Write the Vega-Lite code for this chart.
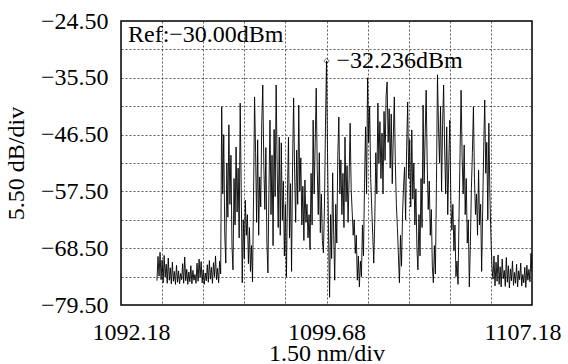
{
"$schema": "https://vega.github.io/schema/vega-lite/v6.json",
"width": 411,
"height": 284,
"autosize": {"type": "none"},
"padding": {"left": 121, "top": 21, "right": 36, "bottom": 59},
"background": "white",
"config": {
  "font": "Liberation Serif",
  "view": {"stroke": "black", "strokeWidth": 1.5},
  "axis": {
    "domain": false, "ticks": false, "grid": true,
    "gridColor": "#333", "gridDash": [2, 2], "gridWidth": 0.8,
    "labelFontSize": 24, "labelColor": "black", "labelFont": "Liberation Serif",
    "titleFontSize": 24, "titleFontWeight": "normal", "titleColor": "black", "titleFont": "Liberation Serif",
    "labelOverlap": false, "labelBound": false
  }
},
"datasets": {
"trace": [
{"w":1093.4925,"p":-74.8},{"w":1093.53,"p":-70.1},{"w":1093.5675,"p":-73.9},{"w":1093.605,"p":-69.3},{"w":1093.6425,"p":-74.6},
{"w":1093.68,"p":-70.8},{"w":1093.7175,"p":-75.2},{"w":1093.755,"p":-69.9},{"w":1093.7925,"p":-74.1},{"w":1093.83,"p":-71.6},{"w":1093.8675,"p":-75.3},{"w":1093.905,"p":-70.4},{"w":1093.9425,"p":-74.7},
{"w":1093.98,"p":-72.3},{"w":1094.0175,"p":-75.4},{"w":1094.055,"p":-71.2},{"w":1094.0925,"p":-74.9},{"w":1094.13,"p":-73.0},{"w":1094.1675,"p":-75.5},{"w":1094.205,"p":-71.8},{"w":1094.2425,"p":-75.1},
{"w":1094.28,"p":-72.9},{"w":1094.3175,"p":-75.4},{"w":1094.355,"p":-73.4},{"w":1094.3925,"p":-74.6},{"w":1094.43,"p":-71.5},{"w":1094.4675,"p":-75.3},{"w":1094.505,"p":-70.2},{"w":1094.5425,"p":-74.8},
{"w":1094.58,"p":-72.6},{"w":1094.6175,"p":-75.5},{"w":1094.655,"p":-73.1},{"w":1094.6925,"p":-75.0},{"w":1094.73,"p":-71.9},{"w":1094.7675,"p":-75.4},{"w":1094.805,"p":-72.8},{"w":1094.8425,"p":-74.7},
{"w":1094.88,"p":-73.6},{"w":1094.9175,"p":-75.3},{"w":1094.955,"p":-71.4},{"w":1094.9925,"p":-74.9},{"w":1095.03,"p":-70.6},{"w":1095.0675,"p":-74.2},{"w":1095.105,"p":-71.1},{"w":1095.1425,"p":-75.2},
{"w":1095.18,"p":-72.7},{"w":1095.2175,"p":-75.5},{"w":1095.255,"p":-73.3},{"w":1095.2925,"p":-74.8},{"w":1095.33,"p":-71.7},{"w":1095.3675,"p":-75.1},{"w":1095.405,"p":-70.9},{"w":1095.4425,"p":-74.5},
{"w":1095.48,"p":-72.2},{"w":1095.5175,"p":-75.3},{"w":1095.555,"p":-71.3},{"w":1095.5925,"p":-74.0},{"w":1095.63,"p":-70.0},{"w":1095.6675,"p":-74.6},{"w":1095.705,"p":-72.4},{"w":1095.7425,"p":-75.2},
{"w":1095.78,"p":-71.0},{"w":1095.8175,"p":-73.5},{"w":1095.855,"p":-41.1},{"w":1095.8925,"p":-58.0},{"w":1095.93,"p":-46.5},{"w":1095.9675,"p":-66.0},{"w":1096.005,"p":-71.4},{"w":1096.0425,"p":-52.0},
{"w":1096.08,"p":-62.5},{"w":1096.1175,"p":-44.6},{"w":1096.155,"p":-60.0},{"w":1096.1925,"p":-50.5},{"w":1096.23,"p":-68.0},{"w":1096.2675,"p":-72.7},{"w":1096.305,"p":-55.0},{"w":1096.3425,"p":-64.0},
{"w":1096.38,"p":-48.9},{"w":1096.4175,"p":-61.5},{"w":1096.455,"p":-53.0},{"w":1096.4925,"p":-66.5},{"w":1096.53,"p":-40.4},{"w":1096.5675,"p":-57.0},{"w":1096.605,"p":-75.2},{"w":1096.6425,"p":-63.0},
{"w":1096.68,"p":-70.5},{"w":1096.7175,"p":-59.2},{"w":1096.755,"p":-66.0},{"w":1096.7925,"p":-62.0},{"w":1096.83,"p":-71.5},{"w":1096.8675,"p":-64.5},{"w":1096.905,"p":-73.0},{"w":1096.9425,"p":-68.0},
{"w":1096.98,"p":-75.0},{"w":1097.0175,"p":-58.5},{"w":1097.055,"p":-39.2},{"w":1097.0925,"p":-50.0},{"w":1097.13,"p":-63.5},{"w":1097.1675,"p":-47.5},{"w":1097.205,"p":-66.0},{"w":1097.2425,"p":-54.7},
{"w":1097.28,"p":-60.5},{"w":1097.3175,"p":-44.0},{"w":1097.355,"p":-36.9},{"w":1097.3925,"p":-52.5},{"w":1097.43,"p":-61.0},{"w":1097.4675,"p":-49.0},{"w":1097.505,"p":-67.5},{"w":1097.5425,"p":-73.3},
{"w":1097.58,"p":-57.0},{"w":1097.6175,"p":-43.7},{"w":1097.655,"p":-62.0},{"w":1097.6925,"p":-50.5},{"w":1097.73,"p":-68.0},{"w":1097.7675,"p":-45.5},{"w":1097.805,"p":-58.5},{"w":1097.8425,"p":-36.9},
{"w":1097.88,"p":-53.0},{"w":1097.9175,"p":-64.5},{"w":1097.955,"p":-47.0},{"w":1097.9925,"p":-66.0},{"w":1098.03,"p":-48.1},{"w":1098.0675,"p":-63.0},{"w":1098.105,"p":-55.5},{"w":1098.1425,"p":-70.0},
{"w":1098.18,"p":-60.0},{"w":1098.2175,"p":-74.1},{"w":1098.255,"p":-58.0},{"w":1098.2925,"p":-47.0},{"w":1098.33,"p":-66.5},{"w":1098.3675,"p":-56.0},{"w":1098.405,"p":-73.0},{"w":1098.4425,"p":-52.0},
{"w":1098.48,"p":-39.4},{"w":1098.5175,"p":-54.0},{"w":1098.555,"p":-63.5},{"w":1098.5925,"p":-49.5},{"w":1098.63,"p":-60.0},{"w":1098.6675,"p":-40.8},{"w":1098.705,"p":-57.5},{"w":1098.7425,"p":-51.0},
{"w":1098.78,"p":-64.0},{"w":1098.8175,"p":-56.5},{"w":1098.855,"p":-67.0},{"w":1098.8925,"p":-55.3},{"w":1098.93,"p":-63.5},{"w":1098.9675,"p":-60.0},{"w":1099.005,"p":-66.5},{"w":1099.0425,"p":-62.0},
{"w":1099.08,"p":-68.8},{"w":1099.1175,"p":-54.0},{"w":1099.155,"p":-64.0},{"w":1099.1925,"p":-43.7},{"w":1099.23,"p":-58.0},{"w":1099.2675,"p":-48.0},{"w":1099.305,"p":-37.5},{"w":1099.3425,"p":-53.5},
{"w":1099.38,"p":-62.0},{"w":1099.4175,"p":-50.0},{"w":1099.455,"p":-65.5},{"w":1099.4925,"p":-58.0},{"w":1099.53,"p":-67.0},{"w":1099.5675,"p":-69.4},{"w":1099.605,"p":-60.5},{"w":1099.6425,"p":-45.0},
{"w":1099.68,"p":-32.236},{"w":1099.7175,"p":-50.0},{"w":1099.755,"p":-66.0},{"w":1099.7925,"p":-78.0},{"w":1099.83,"p":-62.0},{"w":1099.8675,"p":-70.5},{"w":1099.905,"p":-53.9},{"w":1099.9425,"p":-66.0},
{"w":1099.98,"p":-74.7},{"w":1100.0175,"p":-60.0},{"w":1100.055,"p":-67.5},{"w":1100.0925,"p":-50.5},{"w":1100.13,"p":-43.1},{"w":1100.1675,"p":-58.0},{"w":1100.205,"p":-51.4},{"w":1100.2425,"p":-62.0},
{"w":1100.28,"p":-54.0},{"w":1100.3175,"p":-64.5},{"w":1100.355,"p":-47.0},{"w":1100.3925,"p":-59.5},{"w":1100.43,"p":-52.5},{"w":1100.4675,"p":-63.5},{"w":1100.505,"p":-55.0},{"w":1100.5425,"p":-44.3},
{"w":1100.58,"p":-57.0},{"w":1100.6175,"p":-61.5},{"w":1100.655,"p":-66.0},{"w":1100.6925,"p":-63.0},{"w":1100.73,"p":-69.5},{"w":1100.7675,"p":-66.0},{"w":1100.805,"p":-74.7},{"w":1100.8425,"p":-70.0},
{"w":1100.88,"p":-76.0},{"w":1100.9175,"p":-71.0},{"w":1100.955,"p":-74.0},{"w":1100.9925,"p":-64.0},{"w":1101.03,"p":-70.0},{"w":1101.0675,"p":-56.0},{"w":1101.105,"p":-45.0},{"w":1101.1425,"p":-58.0},
{"w":1101.18,"p":-35.5},{"w":1101.2175,"p":-48.0},{"w":1101.255,"p":-41.0},{"w":1101.2925,"p":-55.0},{"w":1101.33,"p":-60.5},{"w":1101.3675,"p":-66.0},{"w":1101.405,"p":-71.4},{"w":1101.4425,"p":-63.0},
{"w":1101.48,"p":-50.0},{"w":1101.5175,"p":-58.0},{"w":1101.555,"p":-40.4},{"w":1101.5925,"p":-52.0},{"w":1101.63,"p":-44.0},{"w":1101.6675,"p":-55.0},{"w":1101.705,"p":-46.2},{"w":1101.7425,"p":-58.0},
{"w":1101.78,"p":-42.0},{"w":1101.8175,"p":-51.5},{"w":1101.855,"p":-39.0},{"w":1101.8925,"p":-36.3},{"w":1101.93,"p":-48.0},{"w":1101.9675,"p":-41.5},{"w":1102.005,"p":-53.0},{"w":1102.0425,"p":-42.5},
{"w":1102.08,"p":-56.0},{"w":1102.1175,"p":-47.0},{"w":1102.155,"p":-39.2},{"w":1102.1925,"p":-52.0},{"w":1102.23,"p":-60.0},{"w":1102.2675,"p":-64.5},{"w":1102.305,"p":-70.0},{"w":1102.3425,"p":-75.2},
{"w":1102.38,"p":-66.0},{"w":1102.4175,"p":-72.0},{"w":1102.455,"p":-62.0},{"w":1102.4925,"p":-56.5},{"w":1102.53,"p":-52.8},{"w":1102.5675,"p":-63.0},{"w":1102.605,"p":-49.0},{"w":1102.6425,"p":-40.2},
{"w":1102.68,"p":-55.0},{"w":1102.7175,"p":-47.5},{"w":1102.755,"p":-60.5},{"w":1102.7925,"p":-45.6},{"w":1102.83,"p":-59.0},{"w":1102.8675,"p":-52.0},{"w":1102.905,"p":-64.0},{"w":1102.9425,"p":-57.0},
{"w":1102.98,"p":-68.5},{"w":1103.0175,"p":-72.7},{"w":1103.055,"p":-62.0},{"w":1103.0925,"p":-70.0},{"w":1103.13,"p":-55.0},{"w":1103.1675,"p":-64.5},{"w":1103.205,"p":-40.8},{"w":1103.2425,"p":-56.0},
{"w":1103.28,"p":-47.0},{"w":1103.3175,"p":-37.9},{"w":1103.355,"p":-52.0},{"w":1103.3925,"p":-61.0},{"w":1103.43,"p":-55.5},{"w":1103.4675,"p":-66.0},{"w":1103.505,"p":-61.0},{"w":1103.5425,"p":-72.0},
{"w":1103.58,"p":-75.2},{"w":1103.6175,"p":-68.0},{"w":1103.655,"p":-73.5},{"w":1103.6925,"p":-56.0},{"w":1103.73,"p":-34.9},{"w":1103.7675,"p":-45.0},{"w":1103.805,"p":-52.0},{"w":1103.8425,"p":-41.0},
{"w":1103.88,"p":-57.5},{"w":1103.9175,"p":-44.5},{"w":1103.955,"p":-36.9},{"w":1103.9925,"p":-49.5},{"w":1104.03,"p":-58.0},{"w":1104.0675,"p":-45.0},{"w":1104.105,"p":-62.0},{"w":1104.1425,"p":-52.0},
{"w":1104.18,"p":-43.7},{"w":1104.2175,"p":-59.0},{"w":1104.255,"p":-65.0},{"w":1104.2925,"p":-60.0},{"w":1104.33,"p":-69.0},{"w":1104.3675,"p":-64.0},{"w":1104.405,"p":-74.0},{"w":1104.4425,"p":-71.0},
{"w":1104.48,"p":-75.5},{"w":1104.5175,"p":-62.0},{"w":1104.555,"p":-50.0},{"w":1104.5925,"p":-37.9},{"w":1104.63,"p":-51.0},{"w":1104.6675,"p":-58.0},{"w":1104.705,"p":-48.5},{"w":1104.7425,"p":-62.0},
{"w":1104.78,"p":-55.0},{"w":1104.8175,"p":-67.5},{"w":1104.855,"p":-63.0},{"w":1104.8925,"p":-76.0},{"w":1104.93,"p":-68.0},{"w":1104.9675,"p":-57.0},{"w":1105.005,"p":-50.0},{"w":1105.0425,"p":-41.1},
{"w":1105.08,"p":-55.0},{"w":1105.1175,"p":-62.0},{"w":1105.155,"p":-58.0},{"w":1105.1925,"p":-66.0},{"w":1105.23,"p":-53.4},{"w":1105.2675,"p":-64.0},{"w":1105.305,"p":-60.0},{"w":1105.3425,"p":-73.0},
{"w":1105.38,"p":-61.0},{"w":1105.4175,"p":-49.0},{"w":1105.455,"p":-39.8},{"w":1105.4925,"p":-54.0},{"w":1105.53,"p":-48.0},{"w":1105.5675,"p":-63.0},{"w":1105.605,"p":-44.3},{"w":1105.6425,"p":-58.0},
{"w":1105.68,"p":-66.0},{"w":1105.7175,"p":-72.0},{"w":1105.755,"p":-74.5},{"w":1105.7925,"p":-70.0},{"w":1105.83,"p":-75.8},{"w":1105.8675,"p":-71.2},{"w":1105.905,"p":-74.9},{"w":1105.9425,"p":-69.8},
{"w":1105.98,"p":-75.5},{"w":1106.0175,"p":-72.1},{"w":1106.055,"p":-76.0},{"w":1106.0925,"p":-70.6},{"w":1106.13,"p":-74.4},{"w":1106.1675,"p":-72.8},{"w":1106.205,"p":-75.9},{"w":1106.2425,"p":-70.3},
{"w":1106.28,"p":-75.1},{"w":1106.3175,"p":-71.9},{"w":1106.355,"p":-76.2},{"w":1106.3925,"p":-72.5},{"w":1106.43,"p":-74.8},{"w":1106.4675,"p":-71.0},{"w":1106.505,"p":-75.7},{"w":1106.5425,"p":-73.2},
{"w":1106.58,"p":-75.3},{"w":1106.6175,"p":-71.6},{"w":1106.655,"p":-76.0},{"w":1106.6925,"p":-72.9},{"w":1106.73,"p":-74.6},{"w":1106.7675,"p":-71.4},{"w":1106.805,"p":-75.8},{"w":1106.8425,"p":-73.6},
{"w":1106.88,"p":-75.2},{"w":1106.9175,"p":-72.2},{"w":1106.955,"p":-76.1},{"w":1106.9925,"p":-71.8},{"w":1107.03,"p":-74.7},{"w":1107.0675,"p":-72.6},{"w":1107.105,"p":-75.0},{"w":1107.1425,"p":-69.5},
{"w":1107.18,"p":-73.0}
],
"peak": [{"w": 1099.68, "p": -32.236, "label": "−32.236dBm"}],
"ref": [{"w": 1092.18, "p": -24.5, "label": "Ref:−30.00dBm"}]
},
"encoding": {
  "x": {"field": "w", "type": "quantitative", "title": "1.50 nm/div",
    "scale": {"domain": [1092.18, 1107.18], "nice": false, "zero": false},
    "axis": {
      "values": [1092.18, 1093.68, 1095.18, 1096.68, 1098.18, 1099.68, 1101.18, 1102.68, 1104.18, 1105.68, 1107.18],
      "labelExpr": "indexof([1092.18, 1099.68, 1107.18], datum.value) >= 0 ? format(datum.value, '.2f') : ''",
      "labelFont": "Liberation Serif", "titleFont": "Liberation Serif",
      "labelFlush": true, "labelFlushOffset": 29, "labelPadding": 15, "titlePadding": -3}},
  "y": {"field": "p", "type": "quantitative", "title": "5.50 dB/div",
    "scale": {"domain": [-79.5, -24.5], "nice": false, "zero": false},
    "axis": {
      "values": [-79.5, -74, -68.5, -63, -57.5, -52, -46.5, -41, -35.5, -30, -24.5],
      "labelExpr": "indexof([-24.5, -35.5, -46.5, -57.5, -68.5, -79.5], datum.value) >= 0 ? format(datum.value, '.2f') : ''",
      "labelFont": "Liberation Serif", "titleFont": "Liberation Serif",
      "labelFlush": false, "labelPadding": 13, "titlePadding": 12}}
},
"layer": [
  {
    "data": {"name": "trace"},
    "mark": {"type": "line", "color": "black", "strokeWidth": 0.9, "clip": true}
  },
  {
    "data": {"name": "peak"},
    "mark": {"type": "point", "shape": "diamond", "filled": false, "color": "black", "size": 30, "strokeWidth": 0.8}
  },
  {
    "data": {"name": "peak"},
    "mark": {"type": "text", "align": "left", "baseline": "middle", "dx": 10, "fontSize": 24, "font": "Liberation Serif", "color": "black"},
    "encoding": {"text": {"field": "label"}}
  },
  {
    "data": {"name": "ref"},
    "mark": {"type": "text", "align": "left", "baseline": "alphabetic", "dx": 7, "dy": 21, "fontSize": 24, "font": "Liberation Serif", "color": "black"},
    "encoding": {"text": {"field": "label"}}
  }
]
}
